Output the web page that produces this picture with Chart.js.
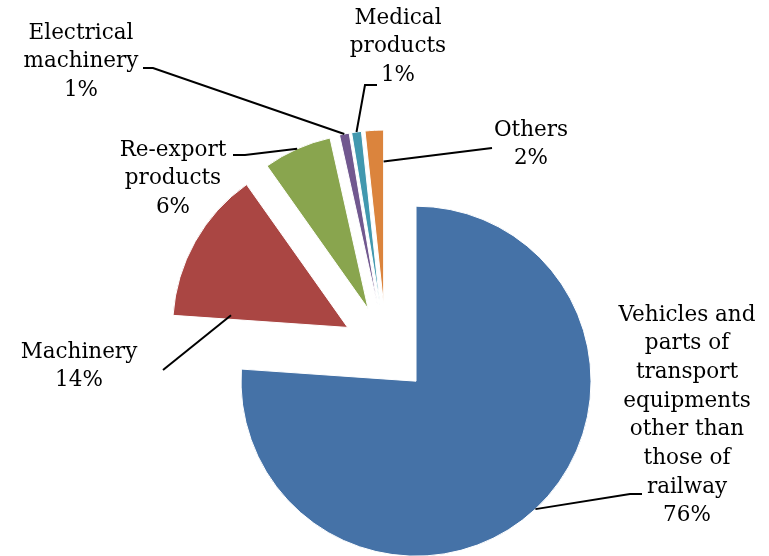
<!DOCTYPE html>
<html>
<head>
<meta charset="utf-8">
<script src="https://cdn.jsdelivr.net/npm/chart.js@4"></script>
<style>
    body { margin: 0; background: #fff; }
    canvas { display: block; }
</style>
</head>
<body>
<canvas id="exportPie" width="769" height="556"></canvas>
<script>
/* datos del grafico */
const categorias = [
    "Vehicles and parts of transport equipments other than those of railway",
    "Machinery",
    "Re-export products",
    "Electrical machinery",
    "Medical products",
    "Others",
];
const valores = [76.1, 14.1, 6.3, 0.9, 0.9, 1.7];
const etiquetasPct = ["76%", "14%", "6%", "1%", "1%", "2%"];
const colores = ["#4572A7", "#AA4643", "#89A54E", "#71588F", "#4198AF", "#DB843D"];

// lineas de texto de cada etiqueta (como en el original)
const lineasEtiqueta = [
    ["Vehicles and", "parts of", "transport", "equipments", "other than", "those of", "railway"],
    ["Machinery"],
    ["Re-export", "products"],
    ["Electrical", "machinery"],
    ["Medical", "products"],
    ["Others"],
];

/* posicion de etiquetas y lineas guia */
const layoutEtiquetas = [
    { x: 687, y: 315, guia: [[642, 494], [630, 494]], t: 0.5, r: 1 },
    { x: 79, y: 352, guia: [[163, 370]], t: 0.04, r: 0.67 },
    { x: 173, y: 150, guia: [[233, 155], [245, 155]], t: 0.5, r: 1 },
    { x: 81, y: 33, guia: [[143, 68], [153, 68]], t: 0.5, r: 1 },
    { x: 398, y: 18, guia: [[377, 85], [365, 85]], t: 0.5, r: 1 },
    { x: 531, y: 130, guia: [[492, 148]], t: 1, r: 0.82 },
];
const separacion = 44;
const interlineado = 28.7;
const fuente = '21.5px "DejaVu Serif", serif';

// separa cada porcion del centro (pie explotado)
const explotar = {
    id: "explotar",
    beforeDatasetDraw(chart, args) {
        const ctx = chart.ctx;
        args.meta.data.forEach((arc) => {
            const medio = (arc.startAngle + arc.endAngle) / 2;
            ctx.save();
            ctx.translate(Math.cos(medio) * separacion, Math.sin(medio) * separacion);
            arc.draw(ctx);
            ctx.restore();
        });
        return false;
    },
};

// etiquetas con lineas guia
const etiquetas = {
    id: "etiquetas",
    afterDatasetsDraw(chart) {
        const ctx = chart.ctx;
        const arcs = chart.getDatasetMeta(0).data;
        ctx.save();
        arcs.forEach((arc, i) => {
            const lay = layoutEtiquetas[i];
            const medio = (arc.startAngle + arc.endAngle) / 2;
            const cx = arc.x + Math.cos(medio) * separacion;
            const cy = arc.y + Math.sin(medio) * separacion;
            const ang = arc.startAngle + (arc.endAngle - arc.startAngle) * lay.t;
            const rad = arc.outerRadius * lay.r;

            ctx.strokeStyle = "#000";
            ctx.lineWidth = 2;
            ctx.beginPath();
            ctx.moveTo(lay.guia[0][0], lay.guia[0][1]);
            lay.guia.slice(1).forEach((p) => ctx.lineTo(p[0], p[1]));
            ctx.lineTo(cx + Math.cos(ang) * rad, cy + Math.sin(ang) * rad);
            ctx.stroke();

            ctx.fillStyle = "#000";
            ctx.font = fuente;
            ctx.textAlign = "center";
            ctx.textBaseline = "middle";
            const lineas = lineasEtiqueta[i].concat([etiquetasPct[i]]);
            lineas.forEach((txt, j) => {
                ctx.fillText(txt, lay.x, lay.y + j * interlineado);
            });
        });
        ctx.restore();
    },
};

document.addEventListener("DOMContentLoaded", function () {
    new Chart(document.getElementById("exportPie"), {
        type: "pie",
        data: {
            labels: categorias,
            datasets: [
                {
                    data: valores,
                    backgroundColor: colores,
                    borderColor: "#ffffff",
                    borderWidth: 1,
                    radius: 175,
                },
            ],
        },
        options: {
            responsive: false,
            animation: false,
            layout: { padding: { left: 3, right: 0, top: 142, bottom: 0 } },
            plugins: {
                legend: { display: false },
                tooltip: { enabled: false },
            },
        },
        plugins: [explotar, etiquetas],
    });
});
</script>
</body>
</html>
